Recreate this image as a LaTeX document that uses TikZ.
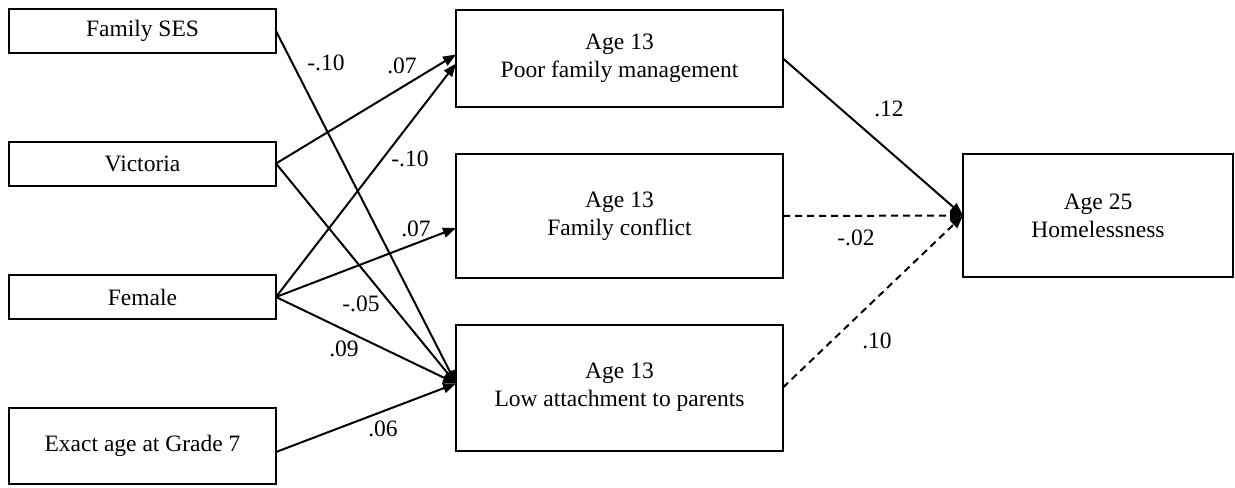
\documentclass[tikz,border=0pt]{standalone}
\usepackage{fontspec}
\setmainfont{Liberation Serif}
\usetikzlibrary{arrows, arrows.meta, positioning}
\tikzstyle{caja} = [draw, line width=1pt, rectangle, inner sep=0pt, outer sep=0pt, align=center, font=\fontsize{11.75}{14.1}\selectfont]
\tikzstyle{coef} = [inner sep=1pt, font=\fontsize{11.75}{14.1}\selectfont]
\tikzstyle{camino} = [line width=1pt, -{Triangle[length=6.5pt,width=5pt]}]
\tikzstyle{nosig} = [camino, dash pattern=on 3.5pt off 2.5pt]

\begin{document}
\begin{tikzpicture}[x=0.5pt, y=-0.5pt]
	\useasboundingbox (0,0) rectangle (1235,487);
	% covariables
	\node [caja, minimum width=133.5pt, minimum height=22pt] (ses) at (142.5,31) {Family SES};
	\node [caja, minimum width=133.5pt, minimum height=22pt] (vic) at (142.5,163.5) {Victoria};
	\node [caja, minimum width=133.5pt, minimum height=22pt] (fem) at (142.5,297) {Female};
	\node [caja, minimum width=133.5pt, minimum height=38pt] (edad) at (142.5,446) {Exact age at Grade 7};
	% mediadores
	\node [caja, minimum width=163.5pt, minimum height=48.5pt] (poor) at (619.5,58.5) {Age 13\\Poor family management};
	\node [caja, minimum width=163.5pt, minimum height=62pt] (conf) at (619.5,216) {Age 13\\Family conflict};
	\node [caja, minimum width=163.5pt, minimum height=63pt] (low) at (619.5,387.5) {Age 13\\Low attachment to parents};
	% resultado
	\node [caja, minimum width=135pt, minimum height=61.5pt] (home) at (1098,215.5) {Age 25\\Homelessness};

	\draw [camino] (ses.east) -- ([yshift=2pt]low.west);
	\draw [camino] (vic.east) -- ([yshift=2pt]poor.west);
	\draw [camino] (vic.east) -- ([yshift=2pt]low.west);
	\draw [camino] (fem.east) -- ([yshift=-2.5pt]poor.west);
	\draw [camino] (fem.east) -- ([yshift=-6pt]conf.west);
	\draw [camino] (fem.east) -- ([yshift=2pt]low.west);
	\draw [camino] ([yshift=-3pt]edad.east) -- ([yshift=2pt]low.west);
	\draw [camino] (poor.east) -- (home.west);
	\draw [nosig] (conf.east) -- (home.west);
	\draw [nosig] (low.east) -- (home.west);

	\node [coef] (c1) at (326,63) {-.10};
	\node [coef] (c2) at (402,66) {.07};
	\node [coef] (c3) at (410,159) {-.10};
	\node [coef] (c4) at (416,229) {.07};
	\node [coef] (c5) at (361,304) {-.05};
	\node [coef] (c6) at (344,349) {.09};
	\node [coef] (c7) at (383,429) {.06};
	\node [coef] (c8) at (889,109) {.12};
	\node [coef] (c9) at (856,238) {-.02};
	\node [coef] (c10) at (877,341) {.10};
\end{tikzpicture}
\end{document}
